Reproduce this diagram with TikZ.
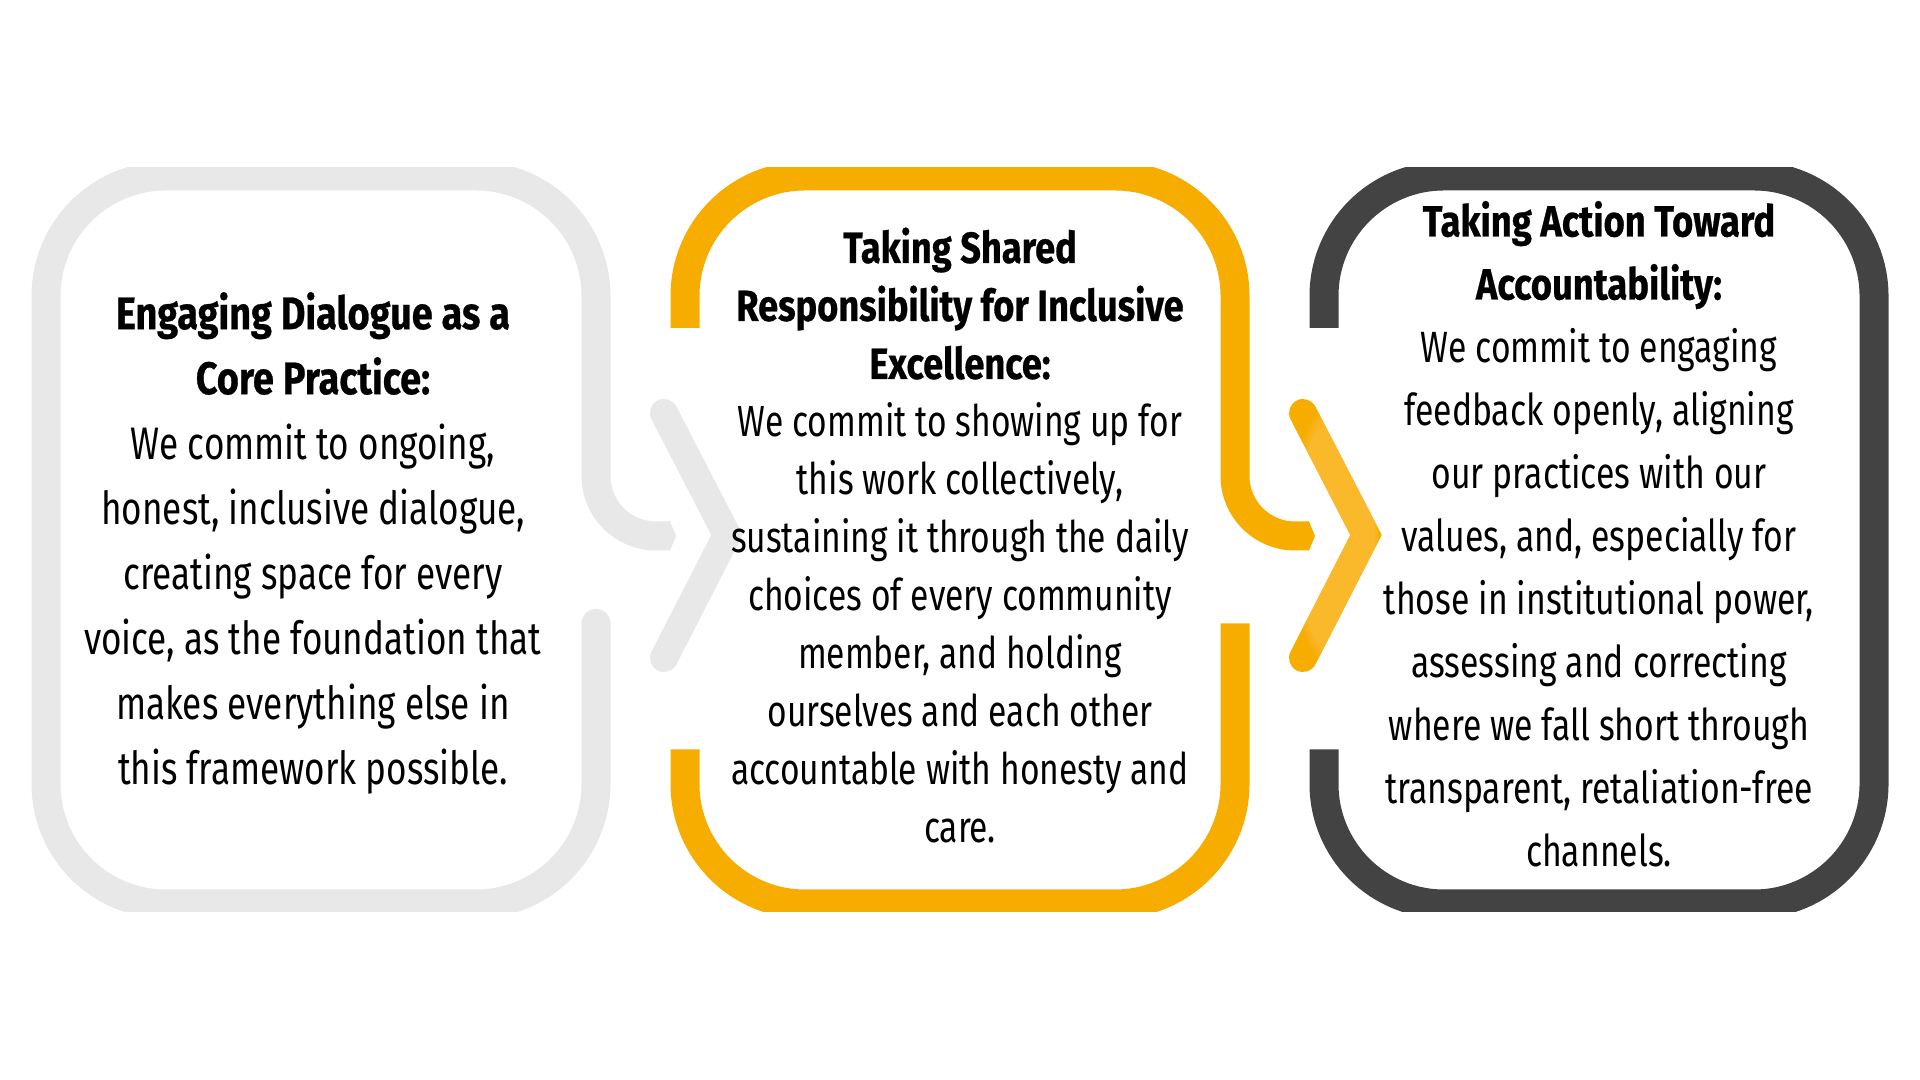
\documentclass[tikz,border=0pt]{standalone}
\usepackage{fontspec}
\setmainfont{Fira Sans}[FakeStretch=0.77]
\newfontfamily\titlefont{Fira Sans}[FakeStretch=0.83,FakeBold=0.6]
\usetikzlibrary{fadings}
\definecolor{ringgray}{HTML}{E8E8E8}
\definecolor{ringorange}{HTML}{F6AD00}
\definecolor{ringdark}{HTML}{434343}
\definecolor{glow}{HTML}{FFC24F}

\newcommand{\paneltitle}[1]{{\titlefont\bfseries #1}}

\begin{document}
\begin{tikzpicture}[x=0.5pt,y=0.5pt,ring/.style={line width=14.5pt},chevron/.style={line width=14pt,line cap=round,line join=miter}]
  \tikzstyle{panel text}=[align=center,inner sep=0pt,text=black]

  \fill[white] (0,0) rectangle (1920,1080);
  \useasboundingbox (0,0) rectangle (1920,1080);

  \begin{scope}
    \clip (0,168) rectangle (1920,912);
    % dialogue ring
    \draw[ring,ringgray] (596,456.5) -- (596,296) arc[start angle=0,end angle=-90,radius=120] -- (166,176) arc[start angle=270,end angle=180,radius=120] -- (46,784) arc[start angle=180,end angle=90,radius=120] -- (476,904) arc[start angle=90,end angle=0,radius=120] -- (596,604) arc[start angle=180,end angle=270,radius=60] -- (670,544);
    \fill[ringgray] (596,456.5) circle[radius=14.5];
    \fill[ringgray] (669,529.5) -- (670,529.5) -- (676,544) -- (670,558.5) -- (669,558.5) -- cycle;
    % shared ring
    \draw[ring,ringorange] (685,330.5) -- (685,296) arc[start angle=180,end angle=270,radius=120] -- (1115,176) arc[start angle=270,end angle=360,radius=120] -- (1235,456.5);
    \draw[ring,ringorange] (685,752) -- (685,784) arc[start angle=180,end angle=90,radius=120] -- (1115,904) arc[start angle=90,end angle=0,radius=120] -- (1235,604) arc[start angle=180,end angle=270,radius=60] -- (1309,544);
    \fill[ringorange] (1308,529.5) -- (1309,529.5) -- (1315,544) -- (1309,558.5) -- (1308,558.5) -- cycle;
    % action ring
    \draw[ring,ringdark] (1324,752) -- (1324,784) arc[start angle=180,end angle=90,radius=120] -- (1444,904) -- (1754,904) arc[start angle=90,end angle=0,radius=120] -- (1874,296) arc[start angle=0,end angle=-90,radius=120] -- (1444,176) arc[start angle=270,end angle=180,radius=120] -- (1324,330.5);
  \end{scope}

  % chevrons
  \draw[chevron,ringgray] (664,667) -- (727,545) -- (664,422);
  \draw[chevron,ringorange] (1303,667) -- (1366,545) -- (1303,422);
  \draw[chevron,glow,opacity=0.55,path fading=circle with fuzzy edge 15 percent] (1303,667) -- (1366,545) -- (1303,422);

  \node[panel text,font=\fontsize{22.8}{32.5}\selectfont] (dialogue) at (313,537)
    {\paneltitle{Engaging Dialogue as a}\\\paneltitle{Core Practice:}\\We commit to ongoing,\\honest, inclusive dialogue,\\creating space for every\\voice, as the foundation that\\makes everything else in\\this framework possible.};
  \node[panel text,font=\fontsize{21.8}{29}\selectfont] (shared) at (960,544.5)
    {\paneltitle{Taking Shared}\\\paneltitle{Responsibility for Inclusive}\\\paneltitle{Excellence:}\\We commit to showing up for\\this work collectively,\\sustaining it through the daily\\choices of every community\\member, and holding\\ourselves and each other\\accountable with honesty and\\care.};
  \node[panel text,font=\fontsize{21.9}{31.5}\selectfont] (action) at (1599,546)
    {\paneltitle{Taking Action Toward}\\\paneltitle{Accountability:}\\We commit to engaging\\feedback openly, aligning\\our practices with our\\values, and, especially for\\those in institutional power,\\assessing and correcting\\where we fall short through\\transparent, retaliation-free\\channels.};
\end{tikzpicture}
\end{document}
